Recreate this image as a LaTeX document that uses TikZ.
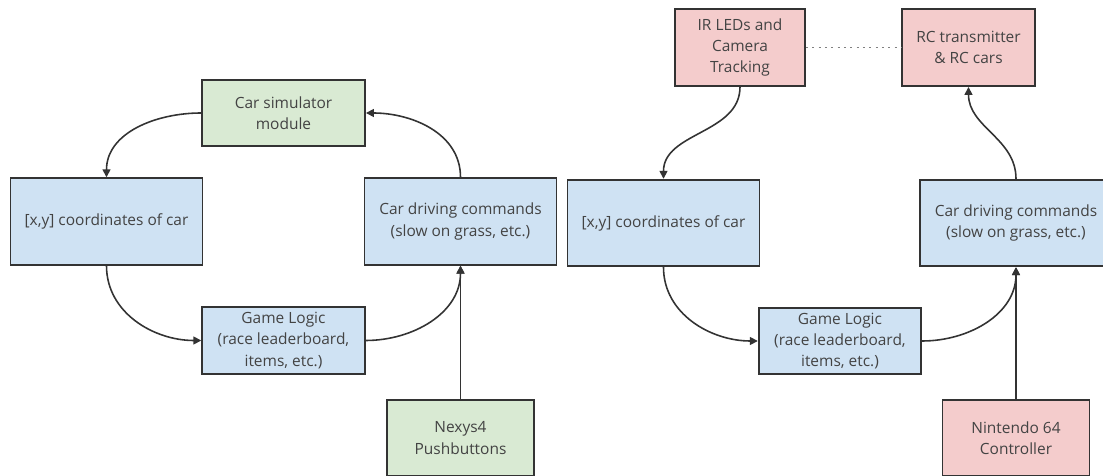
\documentclass[tikz,border=0pt]{standalone}
\usepackage{fontspec}
\setmainfont{Open Sans}
\usepackage{xcolor}
\usepackage{tikz}
\usetikzlibrary{arrows.meta, positioning}
\definecolor{simgreen}{HTML}{D9EAD3}
\definecolor{logicblue}{HTML}{CFE2F3}
\definecolor{hwred}{HTML}{F4CCCC}
\definecolor{edgegray}{HTML}{333333}
\definecolor{textgray}{HTML}{434343}

\begin{document}
\begin{tikzpicture}[x=0.02cm, y=0.02cm,
    font=\fontsize{8.8}{12}\selectfont, text=textgray,
    box/.style={draw=edgegray, line width=1.1pt, align=center, inner sep=2pt},
    widebox/.style={box, fill=logicblue, minimum width=3.84cm, minimum height=1.73cm},
    logicbox/.style={box, fill=logicblue, minimum width=3.25cm, minimum height=1.33cm},
    hwbox/.style={box, minimum width=2.94cm, minimum height=1.52cm},
    flow/.style={edgegray, line width=0.9pt, -{Triangle[length=4.5pt, width=4.5pt]}}]
    \useasboundingbox (0,0) rectangle (1103,-476);
    \clip (0,0) rectangle (1103,-476);

    % Left loop: simulated cars
    \node[box, fill=simgreen, minimum width=3.26cm, minimum height=1.32cm] (sim) at (283.5,-113) {Car simulator\\module};
    \node[widebox] (coordsL) at (106.5,-221.5) {[x,y] coordinates of car};
    \node[widebox] (drivingL) at (460.5,-221.5) {Car driving commands\\(slow on grass, etc.)};
    \node[logicbox] (logicL) at (283.5,-340.5) {Game Logic\\(race leaderboard,\\items, etc.)};
    \node[hwbox, fill=simgreen] (nexys) at (460.5,-438) {Nexys4\\Pushbuttons};

    \draw[flow] (sim.west) to[out=180, in=90] (coordsL.north);
    \draw[flow] (coordsL.south) to[out=-90, in=180] (logicL.west);
    \draw[flow] (logicL.east) to[out=0, in=-90] (drivingL.south);
    \draw[flow] (nexys.north) -- (drivingL.south);
    \draw[flow] (drivingL.north) to[out=90, in=0] (sim.east);

    % Right loop: real RC cars
    \node[box, fill=hwred, minimum width=2.6cm, minimum height=1.54cm] (irCam) at (740,-47.5) {IR LEDs and\\Camera\\Tracking};
    \node[box, fill=hwred, minimum width=2.66cm, minimum height=1.54cm] (rcTx) at (968.5,-47.5) {RC transmitter\\\& RC cars};
    \node[widebox] (coordsR) at (663.5,-223) {[x,y] coordinates of car};
    \node[widebox] (drivingR) at (1016,-223) {Car driving commands\\(slow on grass, etc.)};
    \node[logicbox] (logicR) at (840,-341) {Game Logic\\(race leaderboard,\\items, etc.)};
    \node[hwbox, fill=hwred] (ninty) at (1016,-438) {Nintendo 64\\Controller};

    \draw[gray, line width=0.8pt, dash pattern=on 1.2pt off 2.4pt] (irCam.east) -- (rcTx.west);
    \draw[flow] (irCam.south) to[out=-90, in=90] (coordsR.north);
    \draw[flow] (coordsR.south) to[out=-90, in=180] (logicR.west);
    \draw[flow] (logicR.east) to[out=0, in=-90] (drivingR.south);
    \draw[flow] (ninty.north) -- (drivingR.south);
    \draw[flow] (drivingR.north) to[out=90, in=-90] (rcTx.south);
\end{tikzpicture}
\end{document}
